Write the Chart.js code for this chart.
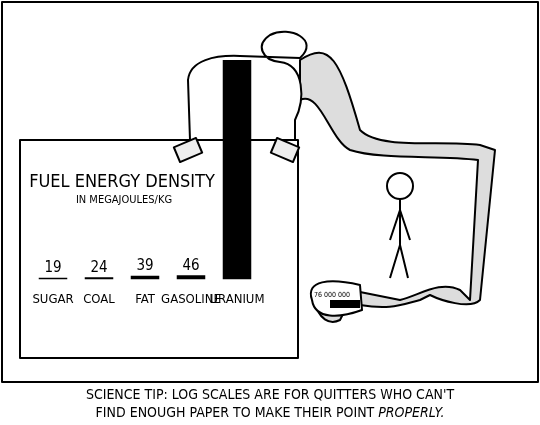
<!DOCTYPE html>
<html><head><meta charset="utf-8">
<script src="https://cdn.jsdelivr.net/npm/chart.js@4"></script>
<style>
body{margin:0;background:#fff;width:540px;height:425px;overflow:hidden;position:relative;font-family:"DejaVu Sans Condensed","DejaVu Sans",sans-serif}
#c{position:absolute;left:0;top:0}
#cap{position:absolute;left:0;top:385px;width:540px;text-align:center;font-size:14px;line-height:18px;color:#000}
</style></head><body>
<canvas id="c" width="540" height="425"></canvas>
<div id="cap">SCIENCE TIP: LOG SCALES ARE FOR QUITTERS WHO CAN'T<br>FIND ENOUGH PAPER TO MAKE THEIR POINT <i>PROPERLY.</i></div>
<script>
const categories=["SUGAR","COAL","FAT","GASOLINE","URANIUM"];
const energyDensity=[19,24,39,46,76000000];
const valueLabels=["19","24","39","46",""];
const chartTitle="FUEL ENERGY DENSITY";
const chartSubtitle="IN MEGAJOULES/KG";

const deco={id:'deco',
beforeDraw(ch){const c=ch.ctx;c.save();c.lineWidth=2;c.strokeStyle='#000';c.lineJoin='round';
 c.strokeRect(2,2,536,380);
 c.fillStyle='#ddd';c.beginPath();
 c.moveTo(300,60);c.bezierCurveTo(330,40,340,60,360,130);c.bezierCurveTo(380,150,440,140,480,145);
 c.lineTo(495,150);c.lineTo(480,300);c.bezierCurveTo(470,310,440,300,430,295);c.lineTo(420,300);
 c.bezierCurveTo(400,305,390,310,360,305);c.lineTo(350,300);c.lineTo(340,320);c.bezierCurveTo(330,325,318,320,315,300);
 c.bezierCurveTo(320,290,335,285,350,290);c.lineTo(400,300);c.bezierCurveTo(420,295,440,280,460,290);
 c.lineTo(470,300);c.lineTo(478,160);c.bezierCurveTo(440,155,380,160,350,150);c.bezierCurveTo(330,140,320,90,300,100);c.closePath();
 c.fill();c.stroke();
 c.fillStyle='#fff';c.beginPath();
 c.moveTo(190,140);c.lineTo(188,80);c.bezierCurveTo(190,60,215,55,240,56);c.lineTo(300,58);
 c.bezierCurveTo(320,40,290,25,270,35);c.bezierCurveTo(255,45,262,60,280,62);
 c.bezierCurveTo(305,65,305,100,295,120);c.lineTo(295,145);c.closePath();c.fill();c.stroke();
 c.fillStyle='#fff';c.fillRect(20,140,278,218);c.strokeRect(20,140,278,218);
 c.fillStyle='#eee';c.save();c.translate(188,150);c.rotate(-0.4);c.fillRect(-12,-8,24,16);c.strokeRect(-12,-8,24,16);c.restore();
 c.save();c.translate(285,150);c.rotate(0.4);c.fillRect(-12,-8,24,16);c.strokeRect(-12,-8,24,16);c.restore();
 c.fillStyle='#fff';c.beginPath();c.moveTo(312,300);c.bezierCurveTo(305,280,330,278,360,285);c.lineTo(362,310);c.bezierCurveTo(340,318,315,320,312,300);c.fill();c.stroke();
 c.fillStyle='#000';c.fillRect(330,300,30,8);
 c.font='7px "DejaVu Sans Condensed",sans-serif';c.fillText('76 000 000',314,297);
 c.beginPath();c.arc(400,186,13,0,Math.PI*2);c.fillStyle='#fff';c.fill();c.stroke();
 c.beginPath();c.moveTo(400,199);c.lineTo(400,245);c.moveTo(400,245);c.lineTo(390,278);c.moveTo(400,245);c.lineTo(408,278);
 c.moveTo(400,210);c.lineTo(390,240);c.moveTo(400,210);c.lineTo(410,240);c.stroke();
 c.restore();},
afterDraw(ch){const c=ch.ctx,x=ch.scales.x,y=ch.scales.y;c.save();c.fillStyle='#000';
 c.font='18px "DejaVu Sans Condensed",sans-serif';c.textAlign='center';c.fillText(chartTitle,122,187);
 c.font='11px "DejaVu Sans Condensed",sans-serif';c.fillText(chartSubtitle,124,203);
 c.font='15px "DejaVu Sans Condensed",sans-serif';c.textBaseline='bottom';
 energyDensity.forEach((v,i)=>{if(valueLabels[i])c.fillText(valueLabels[i],x.getPixelForValue(i),y.getPixelForValue(v)-2);});
 c.restore();}};

new Chart(document.getElementById('c'),{type:'bar',
data:{labels:categories,datasets:[{data:energyDensity,backgroundColor:'#000',borderWidth:0,barPercentage:0.62,categoryPercentage:1,clip:{left:0,right:0,top:80,bottom:0}}]},
options:{responsive:false,animation:false,events:[],
 layout:{padding:{left:30,right:280,top:140,bottom:114}},
 plugins:{legend:{display:false},tooltip:{enabled:false}},
 scales:{x:{grid:{display:false},border:{display:false},ticks:{color:'#000',padding:4,maxRotation:0,autoSkip:false,font:{size:13,family:'"Liberation Sans Narrow","DejaVu Sans Condensed",sans-serif'}}},
  y:{min:0,max:1500,display:false}}},
plugins:[deco]});
</script></body></html>
